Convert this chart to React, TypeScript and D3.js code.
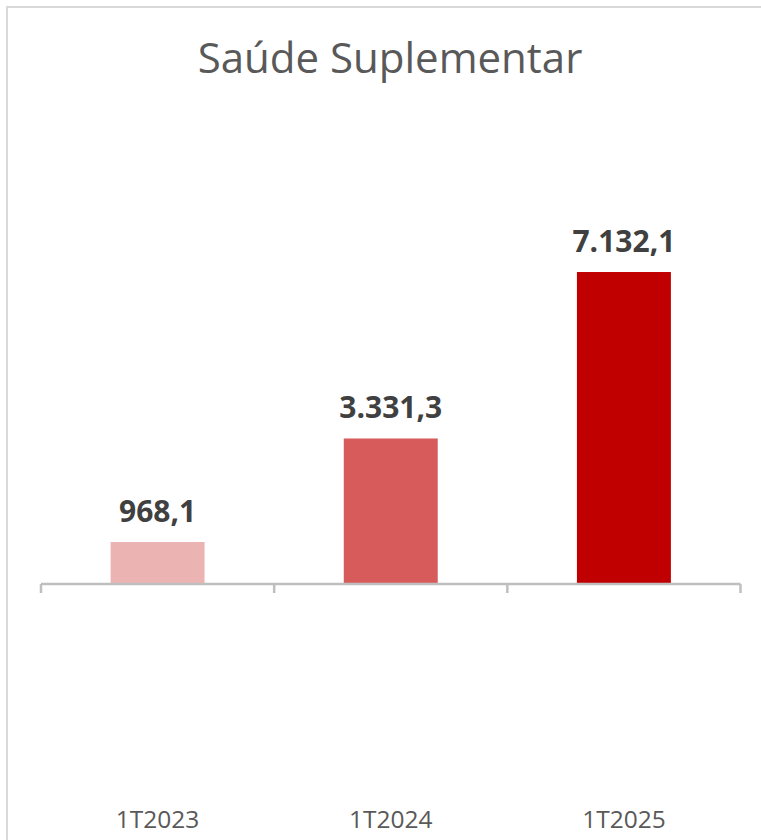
import React from "react";
import * as d3 from "d3";

const categories = ["1T2023", "1T2024", "1T2025"];
const values = [968.1, 3331.3, 7132.1];
const valueLabels = ["968,1", "3.331,3", "7.132,1"];
const barColors = ["#ECB3B3", "#D75B5B", "#C00000"];
const title = "Saúde Suplementar";

const W = 761;
const H = 840;
const FONT = "'Open Sans', 'Noto Sans', sans-serif";

export default function App() {
  const x = d3
    .scaleBand<string>()
    .domain(categories)
    .range([41, 740.5])
    .paddingInner(0.597)
    .paddingOuter(0.2985);
  const step = x.step();
  const y = d3.scaleLinear().domain([0, 8000]).range([584.4, 584.4 - 8000 * 0.0438]);
  const axisY = 584;
  const tickXs = d3.range(categories.length + 1).map((i) => 41 + i * step);

  return (
    <svg
      width={W}
      height={H}
      style={{ position: "absolute", left: 0, top: 0, background: "#fff" }}
      fontFamily={FONT}
    >
      <rect x={7} y={7} width={W + 20} height={H + 20} fill="#fff" stroke="#D9D9D9" strokeWidth={2} />
      <text x={390} y={73} textAnchor="middle" fontSize={42} fill="#595959">
        {title}
      </text>
      {categories.map((c, i) => (
        <rect
          key={c}
          x={x(c)}
          y={y(values[i])}
          width={x.bandwidth()}
          height={y(0) - y(values[i])}
          fill={barColors[i]}
        />
      ))}
      <line x1={41} x2={740.5} y1={axisY} y2={axisY} stroke="#BFBFBF" strokeWidth={2.5} />
      {tickXs.map((tx, i) => (
        <line key={i} x1={tx} x2={tx} y1={axisY} y2={593} stroke="#BFBFBF" strokeWidth={2.5} />
      ))}
      {categories.map((c, i) => (
        <text
          key={c}
          x={(x(c) as number) + x.bandwidth() / 2}
          y={y(values[i]) - 20}
          textAnchor="middle"
          fontSize={30}
          fontWeight={700}
          fill="#404040"
        >
          {valueLabels[i]}
        </text>
      ))}
      {categories.map((c) => (
        <text
          key={c + "-l"}
          x={(x(c) as number) + x.bandwidth() / 2}
          y={828}
          textAnchor="middle"
          fontSize={24.5}
          fill="#595959"
        >
          {c}
        </text>
      ))}
    </svg>
  );
}
